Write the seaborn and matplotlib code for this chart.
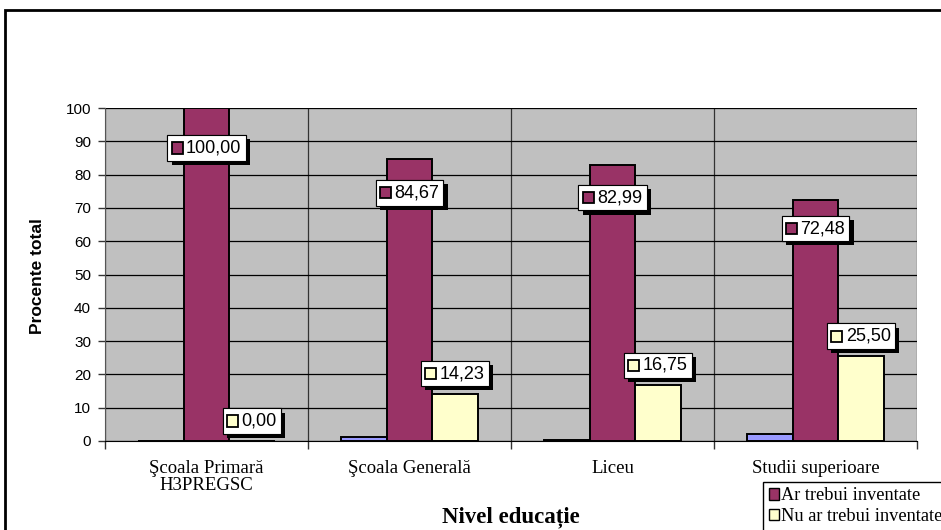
import matplotlib
matplotlib.use("Agg")
import matplotlib.pyplot as plt
import matplotlib.patheffects as pe
from matplotlib.patches import Rectangle, Patch
from matplotlib.offsetbox import AnnotationBbox, HPacker, TextArea, DrawingArea
import seaborn as sns
import pandas as pd

# ---- data ----
categories = ["Şcoala Primară\nH3PREGSC", "Şcoala Generală", "Liceu", "Studii superioare"]
series_names = ["Nu știu", "Ar trebui inventate", "Nu ar trebui inventate"]
nu_stiu = [0.00, 1.10, 0.26, 2.02]
ar_trebui = [100.00, 84.67, 82.99, 72.48]
nu_ar_trebui = [0.00, 14.23, 16.75, 25.50]
colors = ["#9999FF", "#993366", "#FFFFCC"]
yticks = list(range(0, 101, 10))

rows = []
for name, vals in zip(series_names, [nu_stiu, ar_trebui, nu_ar_trebui]):
    for c, v in zip(categories, vals):
        rows.append({"cat": c, "serie": name, "val": v})
df = pd.DataFrame(rows)

W, H = 941, 530
fig = plt.figure(figsize=(W / 100, H / 100), dpi=100)
ax = fig.add_axes([105 / W, (H - 441) / H, 812 / W, 333 / H])

sns.barplot(data=df, x="cat", y="val", hue="serie", order=categories,
            hue_order=series_names, palette=colors, width=0.67, gap=0,
            saturation=1, edgecolor="black", linewidth=1.4, ax=ax,
            legend=False, zorder=3)

ax.set_facecolor("#C0C0C0")
ax.set_ylim(0, 100)
ax.set_xlim(-0.5, 3.5)
ax.set_yticks(yticks)
ax.set_yticklabels([str(t) for t in yticks], family="Liberation Sans", fontsize=11)
ax.set_xticks(range(4))
ax.set_xticklabels(categories, family="Liberation Serif", fontsize=13.5,
                   linespacing=1.0)
ax.tick_params(axis="x", which="major", length=0, pad=14)
ax.set_xticks([-0.5, 0.5, 1.5, 2.5, 3.5], minor=True)
ax.tick_params(axis="x", which="minor", length=6, width=1, color="#333333")
ax.tick_params(axis="y", length=5, width=1, color="#333333", pad=5)
ax.grid(axis="y", color="black", linewidth=0.9, zorder=1)
ax.grid(axis="x", which="minor", color="#333333", linewidth=0.9, zorder=1)
ax.grid(axis="x", which="major", visible=False)
ax.set_axisbelow(True)
for s in ["top", "right"]:
    ax.spines[s].set_visible(False)
ax.spines["left"].set_color("#555555")
ax.spines["bottom"].set_color("black")
ax.set_xlabel("")
ax.set_ylabel("")

fig.text(37 / W, 1 - 276 / H, "Procente total", family="Liberation Sans",
         fontweight="bold", fontsize=12.5, rotation=90, ha="center", va="center")
fig.text(511 / W, 1 - 522 / H, "Nivel educație", family="Liberation Serif",
         fontweight="bold", fontsize=16.5, ha="center", va="baseline")

# data labels
n = len(categories)
bars = ax.patches
for si, (vals, col) in enumerate(zip([nu_stiu, ar_trebui, nu_ar_trebui], colors)):
    if si == 0:
        continue
    for ci, v in enumerate(vals):
        b = bars[si * n + ci]
        xc = b.get_x() + b.get_width() / 2
        yl = v * 0.88 if si == 1 else v + 6
        da = DrawingArea(8, 8, 0, 0)
        da.add_artist(Rectangle((0, 0), 8, 8, fc=col, ec="black", lw=1.3))
        ta = TextArea(f"{v:.2f}".replace(".", ","),
                      textprops=dict(fontsize=13, family="Liberation Sans", color="black"))
        pack = HPacker(children=[da, ta], align="center", pad=0, sep=2.5)
        ab = AnnotationBbox(pack, (xc, yl), xycoords="data", frameon=True, pad=0.3,
                            bboxprops=dict(fc="white", ec="black", lw=0.8,
                                           boxstyle="square,pad=0.3"),
                            zorder=5)
        ab.patch.set_path_effects([pe.withSimplePatchShadow(offset=(3, -3),
                                   shadow_rgbFace="black", alpha=1), pe.Normal()])
        ax.add_artist(ab)

# legend (the two named series visible in the reference)
handles = [Patch(facecolor=colors[1], edgecolor="black", lw=1),
           Patch(facecolor=colors[2], edgecolor="black", lw=1)]
leg = fig.legend(handles, series_names[1:], loc="upper left",
                 bbox_to_anchor=(763 / W, 1 - 482 / H),
                 prop=dict(family="Liberation Serif", size=13.2),
                 frameon=True, fancybox=False, edgecolor="black", framealpha=1,
                 borderpad=0.3, handlelength=0.55, handleheight=0.55,
                 handletextpad=0.12, labelspacing=0.2, borderaxespad=0)
leg.get_frame().set_linewidth(1)

# outer chart frame
fig.add_artist(Rectangle((5 / W, -0.1), 1.2, 1 - 10 / H + 0.1,
                         transform=fig.transFigure, fill=False, ec="black", lw=2))

fig.savefig("out.png", dpi=100)
